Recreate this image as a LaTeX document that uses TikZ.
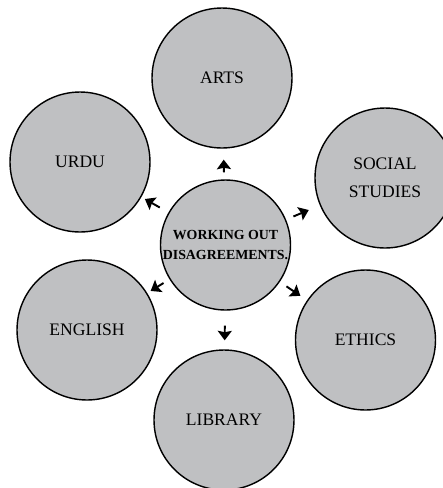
\documentclass[tikz,border=0pt]{standalone}
\usepackage{fontspec}
\setmainfont{Liberation Serif}
\usetikzlibrary{arrows.meta}
\definecolor{topicgray}{RGB}{191,192,194}

\begin{document}
\begin{tikzpicture}[x=0.02cm,y=-0.02cm,
    topic/.style={circle,draw,line width=0.8pt,fill=topicgray,inner sep=0pt,
      minimum size=2.8cm,align=center,font=\fontsize{10}{16}\selectfont},
    hubtopic/.style={topic,minimum size=2.6cm,
      font=\fontsize{7.9}{11.9}\selectfont\bfseries},
    spoke/.style={-{Stealth[length=5.4pt,width=8pt,inset=0.8pt]},line width=1.1pt}]
  \useasboundingbox (0,0) rectangle (443,488);

  \node[hubtopic] (hub) at (225.5,245) {WORKING OUT\\DISAGREEMENTS.};

  \node[topic] (arts) at (222,78) {ARTS};
  \node[topic] (urdu) at (80,162) {URDU};
  \node[topic] (social) at (385,178) {SOCIAL\\STUDIES};
  \node[topic] (english) at (87,330) {ENGLISH};
  \node[topic] (ethics) at (365.5,340) {ETHICS};
  \node[topic] (library) at (224,420) {LIBRARY};

  \draw[spoke,shorten <=0.14cm,shorten >=0.22cm] (hub) -- (arts);
  \draw[spoke,shorten <=0.2cm,shorten >=0.08cm] (hub) -- (urdu);
  \draw[spoke,shorten <=0.16cm,shorten >=0.24cm] (hub) -- (social);
  \draw[spoke,shorten <=0.14cm,shorten >=0.08cm] (hub) -- (english);
  \draw[spoke,shorten <=0.16cm,shorten >=0.16cm] (hub) -- (ethics);
  \draw[spoke,shorten <=0.3cm,shorten >=0.18cm] (hub) -- (library);
\end{tikzpicture}
\end{document}
